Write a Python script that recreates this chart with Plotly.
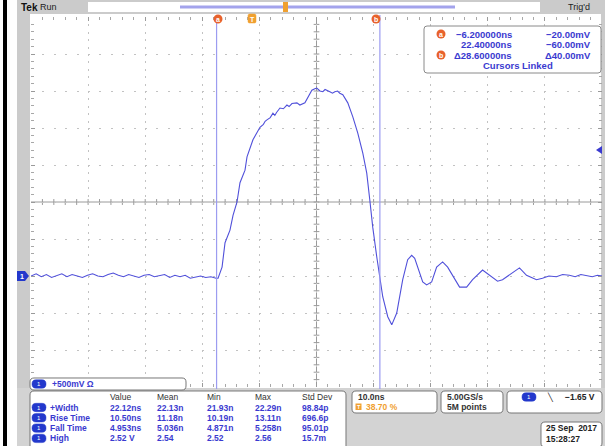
import plotly.graph_objects as go

# ---------------- data ----------------
# time in ns relative to trigger, voltage in V (500 mV/div, 10 ns/div)
base_t = [-38.7, -37.8, -36.9, -36.0, -35.1, -34.2, -33.3, -32.4, -31.5, -30.6,
          -29.7, -28.8, -27.9, -27.0, -26.1, -25.2, -24.3, -23.4, -22.5, -21.6,
          -20.7, -19.8, -18.9, -18.0, -17.1, -16.2, -15.3, -14.4, -13.5, -12.6,
          -11.7, -10.8, -9.9, -9.0, -8.1, -7.2, -6.3]
base_v = [0.00, 0.03, -0.01, 0.02, -0.02, 0.01, 0.03, -0.01, 0.02, 0.00,
          -0.02, 0.01, 0.03, 0.00, -0.01, 0.02, 0.04, 0.01, -0.01, 0.02,
          0.00, -0.02, 0.01, 0.02, -0.01, 0.00, 0.02, -0.02, 0.01, -0.01,
          0.01, -0.03, -0.01, 0.00, -0.02, -0.01, -0.03]

pulse_t = [-5.94, -5.24, -4.72, -3.85, -3.32, -2.62, -2.10, -1.22, -0.87, 0.17,
           0.80, 1.40, 2.00, 2.30, 2.62, 3.20, 3.67, 4.00, 4.30, 4.90,
           5.50, 6.12, 6.50, 7.00, 7.87, 8.39, 9.27, 9.79, 10.49, 11.00,
           11.36, 11.90, 12.41, 12.80, 13.00, 13.64, 14.10, 14.51, 15.00, 15.38,
           15.91]
pulse_v = [-0.03, 0.12, 0.45, 0.62, 0.82, 1.00, 1.26, 1.43, 1.61, 1.84,
           1.92, 2.01, 2.05, 2.09, 2.11, 2.14, 2.20, 2.17, 2.21, 2.27,
           2.26, 2.31, 2.29, 2.33, 2.34, 2.31, 2.34, 2.42, 2.51, 2.53,
           2.54, 2.50, 2.49, 2.52, 2.51, 2.49, 2.47, 2.49, 2.50, 2.47,
           2.45]

ring_t = [16.78, 17.66, 18.53, 19.41, 20.10, 20.63, 21.15, 21.85, 22.38, 22.90,
          23.78, 24.48, 25.35, 25.87, 26.40, 27.27, 27.97, 28.50, 29.90, 30.59,
          31.47, 32.34, 33.39, 34.27, 35.84, 36.36, 37.59, 38.64, 40.38, 41.61,
          43.01, 43.88, 45.63, 46.85, 48.08, 49.83, 50.87, 52.00, 53.32, 54.40,
          55.59, 56.60, 57.60, 58.57, 59.60, 60.50, 61.30]
ring_v = [2.34, 2.15, 1.93, 1.66, 1.39, 1.03, 0.66, 0.26, -0.05, -0.28,
          -0.55, -0.66, -0.50, -0.28, -0.05, 0.22, 0.28, 0.24, -0.08, -0.12,
          -0.08, 0.12, 0.19, 0.12, -0.09, -0.15, -0.15, -0.05, 0.08, 0.01,
          -0.07, -0.05, 0.05, 0.11, 0.01, -0.05, -0.03, 0.00, -0.01, 0.02,
          0.01, -0.01, 0.02, 0.01, -0.01, 0.01, 0.00]

cursor_times = [-6.2, 22.4]
cursor_labels = ["a", "b"]

readout_time = ["\u22126.200000ns", "22.40000ns", "\u039428.60000ns"]
readout_volt = ["\u221220.00mV", "\u221260.00mV", "\u039440.00mV"]

meas_headers = ["Value", "Mean", "Min", "Max", "Std Dev"]
meas_names = ["+Width", "Rise Time", "Fall Time", "High"]
meas_values = [
    ["22.12ns", "22.13n", "21.93n", "22.29n", "98.84p"],
    ["10.50ns", "11.18n", "10.19n", "13.11n", "696.6p"],
    ["4.953ns", "5.036n", "4.871n", "5.258n", "95.01p"],
    ["2.52 V", "2.54", "2.52", "2.56", "15.7m"],
]

T_MIN, T_MAX = -38.7, 61.3
V_MIN, V_MAX = -1.5, 3.5
T_CENTER, V_CENTER = 11.3, 1.0

# ---------------- geometry helpers (pixels -> paper) ----------------
W, H = 605, 446
def px(x):
    return x / W
def py(y):
    return 1 - y / H

GX0, GX1, GY0, GY1 = 31, 602, 17, 387

BLUE = "#3a3ad0"
TRACE = "#5050da"
CURS = "#9c9cf0"
ORANGE = "#e8622c"
GRAY = "#cbcbcb"
FONT = "Liberation Sans"

shapes = []
ann = []

def rect(x0, y0, x1, y1, fill, line=None, lw=0, layer="below"):
    shapes.append(dict(type="rect", xref="paper", yref="paper",
                       x0=px(x0), x1=px(x1), y0=py(y1), y1=py(y0),
                       fillcolor=fill, line=dict(color=line or fill, width=lw),
                       layer=layer))

def rrect(x0, y0, x1, y1, r, fill, line, lw=1, layer="above"):
    P = lambda x, y: f"{px(x):.5f},{py(y):.5f}"
    path = (f"M{P(x0+r,y0)} L{P(x1-r,y0)} Q{P(x1,y0)} {P(x1,y0+r)} "
            f"L{P(x1,y1-r)} Q{P(x1,y1)} {P(x1-r,y1)} L{P(x0+r,y1)} "
            f"Q{P(x0,y1)} {P(x0,y1-r)} L{P(x0,y0+r)} Q{P(x0,y0)} {P(x0+r,y0)} Z")
    shapes.append(dict(type="path", xref="paper", yref="paper", path=path,
                       fillcolor=fill, line=dict(color=line, width=lw), layer=layer))

def text(x, y, s, size=9, color=BLUE, xanchor="left", bold=False, family=FONT):
    if bold:
        s = "<b>" + s + "</b>"
    ann.append(dict(xref="paper", yref="paper", x=px(x), y=py(y), text=s,
                    showarrow=False, xanchor=xanchor, yanchor="middle",
                    font=dict(size=size, color=color, family=family)))

def pill(xc, yc):
    rrect(xc - 7, yc - 4.2, xc + 7, yc + 4.2, 4, "#2338cc", "#2338cc", 0.5)
    text(xc, yc, "1", size=6, color="white", xanchor="center")

def circle(xc, yc, r, fill, label):
    shapes.append(dict(type="circle", xref="paper", yref="paper",
                       x0=px(xc - r), x1=px(xc + r), y0=py(yc + r), y1=py(yc - r),
                       fillcolor=fill, line=dict(color=fill, width=0), layer="above"))
    text(xc, yc + 0.5, label, size=7, color="white", xanchor="center", bold=True)

# ---------------- frame decorations ----------------
rect(3, 0, 7, 446, "#000000")                    # black bar at far left
rect(17, 0, 30, 446, GRAY)                       # left gray strip
rect(17, 0, 605, 14, GRAY)                       # header band
rect(601, 14, 605, 446, GRAY)                    # right edge
rect(17, 388, 605, 446, "#d3d3d3")               # bottom panel
rect(88, 2, 540, 12, "white")                    # record view box
rect(180, 5.5, 455, 8.5, "#a3a3ec")              # record bar
rect(283, 2, 288, 12, "#f0a030")                 # trigger in record
text(19, 7, "Tek", size=10, color="#111111", bold=True)
text(38, 7, "Run", size=9, color="#222222")
text(566, 7, "Trig'd", size=9, color="#222222")

# center cross lines with minor ticks
shapes.append(dict(type="line", xref="x", yref="paper", x0=T_CENTER, x1=T_CENTER,
                   y0=py(GY1), y1=py(GY0), line=dict(color="#9a9a9a", width=1), layer="below"))
shapes.append(dict(type="line", xref="paper", yref="y", x0=px(GX0), x1=px(GX1),
                   y0=V_CENTER, y1=V_CENTER, line=dict(color="#9a9a9a", width=1), layer="below"))
for i in range(1, 50):
    tx = T_MIN + i * 2.0
    shapes.append(dict(type="line", xref="x", yref="y", x0=tx, x1=tx,
                       y0=V_CENTER - 0.04, y1=V_CENTER + 0.04,
                       line=dict(color="#9a9a9a", width=1), layer="below"))
for i in range(1, 50):
    vy = V_MIN + i * 0.1
    shapes.append(dict(type="line", xref="x", yref="y", x0=T_CENTER - 0.5, x1=T_CENTER + 0.5,
                       y0=vy, y1=vy, line=dict(color="#9a9a9a", width=1), layer="below"))

# cursors
for tc, lab in zip(cursor_times, cursor_labels):
    shapes.append(dict(type="line", xref="x", yref="paper", x0=tc, x1=tc,
                       y0=py(GY1 + 2), y1=py(GY0 - 2), line=dict(color=CURS, width=1.2),
                       layer="above"))
circle(218, 19, 4.5, ORANGE, "a")
circle(376, 19, 4.5, ORANGE, "b")
# trigger position marker
rrect(248, 14, 256, 23, 1.5, "#f0a030", "#f0a030", 0.5)
text(252, 19, "T", size=7, color="white", xanchor="center", bold=True)

# channel 1 ground marker
P = lambda x, y: f"{px(x):.5f},{py(y):.5f}"
shapes.append(dict(type="path", xref="paper", yref="paper",
                   path=f"M{P(17,271)} L{P(25,271)} L{P(29,276)} L{P(25,281)} L{P(17,281)} Z",
                   fillcolor="#2338cc", line=dict(color="#2338cc", width=0), layer="above"))
text(21.5, 276.5, "1", size=7, color="white", xanchor="center", bold=True)
# trigger level marker at right
shapes.append(dict(type="path", xref="paper", yref="paper",
                   path=f"M{P(596,150)} L{P(602,146)} L{P(602,154)} Z",
                   fillcolor="#3a3ad0", line=dict(color="#3a3ad0", width=0), layer="above"))

# cursor readout box
rrect(424, 26, 601, 73, 3, "white", "#8a8a8a", 1)
circle(441, 34, 4.5, ORANGE, "a")
circle(441, 55, 4.5, ORANGE, "b")
for i, (tt, vv) in enumerate(zip(readout_time, readout_volt)):
    yy = 34 + i * 10.5
    text(514, yy, tt, size=9.5, color=BLUE, xanchor="right", bold=True)
    text(593, yy, vv, size=9.5, color=BLUE, xanchor="right", bold=True)
text(518, 66, "Cursors Linked", size=9.5, color=BLUE, xanchor="center", bold=True)

# bottom: channel box
rrect(30, 378, 186, 390, 4, "white", "#777777", 1)
pill(39, 384)
text(50, 384, "+500mV \u03a9", size=8.5, color=BLUE, bold=True)

# measurement table
rrect(30, 391, 346, 450, 4, "white", "#777777", 1)
col_x = [108, 155, 205, 253, 300]
for cx, hd in zip(col_x, meas_headers):
    text(cx, 397, hd, size=8.5, color="#333333")
for r, (name, vals) in enumerate(zip(meas_names, meas_values)):
    yy = 407.5 + r * 10.3
    pill(39, yy)
    text(48, yy, name, size=8.5, color=BLUE, bold=True)
    for cx, v in zip(col_x, vals):
        text(cx, yy, v, size=8.5, color=BLUE, bold=True)

# timebase box
rrect(352, 391, 437, 413, 4, "white", "#777777", 1)
text(356, 397, "10.0ns", size=8.5, color="#333333", bold=True)
rect(355.5, 403.5, 361.5, 410, "#f0a030", layer="above")
text(358.5, 407, "T", size=5.5, color="white", xanchor="center", bold=True)
text(364, 407, "38.70 %", size=8.5, color="#f0a030", bold=True)
# sample box
rrect(441, 391, 503, 413, 4, "white", "#777777", 1)
text(445, 397, "5.00GS/s", size=8.5, color="#333333", bold=True)
text(445, 407, "5M points", size=8.5, color="#333333", bold=True)
# trigger box
rrect(507, 391, 602, 413, 4, "white", "#777777", 1)
pill(529, 397)
text(545, 397, "\u2572", size=8, color="#222222")
text(597, 397, "\u22121.65 V", size=8.5, color="#222222", xanchor="right", bold=True)
# date box
rrect(541, 422, 602, 447, 4, "white", "#777777", 1)
text(544, 428, "25 Sep  2017", size=8.5, color="#222222", bold=True)
text(544, 439, "15:28:27", size=8.5, color="#222222", bold=True)

# ---------------- figure ----------------
t_all = base_t + pulse_t + ring_t
v_all = base_v + pulse_v + ring_v

fig = go.Figure()
fig.add_trace(go.Scatter(x=t_all, y=v_all, mode="lines",
                         line=dict(color=TRACE, width=1.1), hoverinfo="skip",
                         showlegend=False))

fig.update_layout(
    width=W, height=H, autosize=False,
    margin=dict(l=0, r=0, t=0, b=0, pad=0),
    paper_bgcolor="white", plot_bgcolor="white",
    shapes=shapes, annotations=ann, showlegend=False,
    xaxis=dict(domain=[px(GX0), px(GX1)], range=[T_MIN, T_MAX],
               tick0=T_MIN, dtick=10, showticklabels=False,
               showgrid=True, gridcolor="#c2c2c2", gridwidth=1, griddash="2px,5.4px",
               zeroline=False, showline=False,
               ticks="inside", ticklen=4, tickcolor="#9a9a9a", mirror="ticks",
               minor=dict(tick0=T_MIN, dtick=2, ticks="inside", ticklen=3,
                          tickcolor="#a8a8a8", showgrid=False),
               fixedrange=True),
    yaxis=dict(domain=[py(GY1), py(GY0)], range=[V_MIN, V_MAX],
               tick0=V_MIN, dtick=0.5, showticklabels=False,
               showgrid=True, gridcolor="#c2c2c2", gridwidth=1, griddash="2px,9.4px",
               zeroline=False, showline=False,
               ticks="inside", ticklen=4, tickcolor="#9a9a9a", mirror="ticks",
               minor=dict(tick0=V_MIN, dtick=0.1, ticks="inside", ticklen=3,
                          tickcolor="#a8a8a8", showgrid=False),
               fixedrange=True),
)

fig.write_html(
    "out.html",
    config={"displayModeBar": False},
    post_script="document.body.style.margin='0';document.body.style.padding='0';"
                "document.body.style.overflow='hidden';",
)
